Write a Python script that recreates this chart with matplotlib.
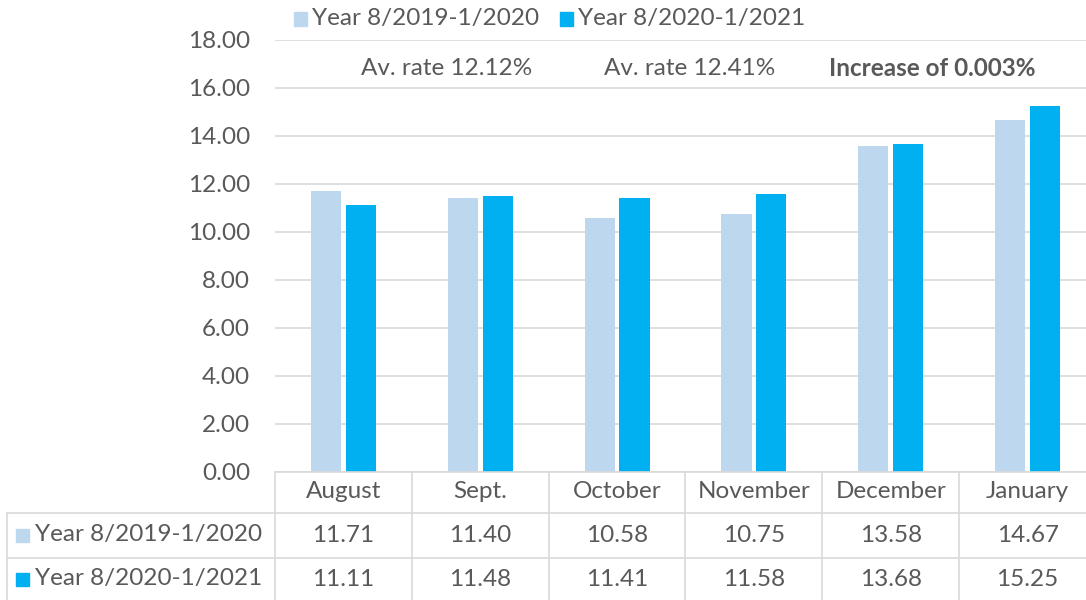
import matplotlib
matplotlib.use("Agg")
import matplotlib.pyplot as plt
from matplotlib.patches import Rectangle
from matplotlib.transforms import blended_transform_factory

categories = ["August", "Sept.", "October", "November", "December", "January"]
series_names = ["Year 8/2019-1/2020", "Year 8/2020-1/2021"]
values_2019 = [11.71, 11.40, 10.58, 10.75, 13.58, 14.67]
values_2020 = [11.11, 11.48, 11.41, 11.58, 13.68, 15.25]
yticks = [0, 2, 4, 6, 8, 10, 12, 14, 16, 18]
notes = ["Av. rate 12.12%", "Av. rate 12.41%", "Increase of 0.003%"]

c_light = "#BDD7EE"
c_dark = "#00B0F0"
txt = "#595959"
grid = "#D9D9D9"
FONT = ["Lato", "DejaVu Sans"]
plt.rcParams["font.family"] = FONT
FS = 17.5

W, H = 1086, 600
fig = plt.figure(figsize=(W / 100, H / 100), dpi=100)

def fx(px):
    return px / W

def fy(py):
    return 1 - py / H

left_px, right_px = 275, 1096
top_px, bot_px = 40, 472
ax = fig.add_axes([fx(left_px), fy(bot_px), fx(right_px) - fx(left_px), fy(top_px) - fy(bot_px)])
n = len(categories)
x = list(range(n))
bw = 0.22
gap = 0.035
ax.bar([i - (bw + gap) / 2 for i in x], values_2019, width=bw, color=c_light, zorder=2)
ax.bar([i + (bw + gap) / 2 for i in x], values_2020, width=bw, color=c_dark, zorder=2)
ax.set_xlim(-0.5, n - 0.5)
ax.set_ylim(0, 18)
ax.set_yticks(yticks)
ax.set_yticklabels([f"{v:.2f}" for v in yticks], fontsize=FS, color=txt)
ax.tick_params(axis="y", length=0, pad=18)
ax.set_xticks([])
for s in ax.spines.values():
    s.set_visible(False)
ax.grid(axis="y", color=grid, linewidth=1.2, zorder=0)
ax.set_axisbelow(True)

# annotations
note_x = [0.755, 2.53, 4.3]
for t, xx, bold in zip(notes, note_x, [False, False, True]):
    ax.text(xx, 16.83, t, ha="center", va="center", fontsize=FS, color=txt,
            fontweight="bold" if bold else "normal")

# legend at top
def key(px_x, py_y, color, size=13):
    fig.patches.append(Rectangle((fx(px_x), fy(py_y + size / 2)), size / W, size / H,
                                 transform=fig.transFigure, color=color))

key(294, 19, c_light)
fig.text(fx(312), fy(19), series_names[0], fontsize=FS, color=txt, va="center", ha="left")
key(560, 19, c_dark)
fig.text(fx(578), fy(19), series_names[1], fontsize=FS, color=txt, va="center", ha="left")

# data table
tr = blended_transform_factory(ax.transData, fig.transFigure)
row_lines = [472, 513, 558, 603]
fig.add_artist(plt.Line2D([fx(left_px), fx(right_px)], [fy(472), fy(472)], color=grid, lw=1.2, transform=fig.transFigure))
for py in row_lines[1:]:
    fig.add_artist(plt.Line2D([fx(7), fx(right_px)], [fy(py), fy(py)], color=grid, lw=1.2, transform=fig.transFigure))
for b in range(n + 1):
    fig.add_artist(plt.Line2D([b - 0.5, b - 0.5], [fy(472), fy(603)], color=grid, lw=1.2, transform=tr))
fig.add_artist(plt.Line2D([fx(7), fx(7)], [fy(513), fy(603)], color=grid, lw=1.2, transform=fig.transFigure))

for i, c in enumerate(categories):
    fig.text(i, fy(492), c, transform=tr, ha="center", va="center", fontsize=FS, color=txt)
    fig.text(i, fy(535), f"{values_2019[i]:.2f}", transform=tr, ha="center", va="center", fontsize=FS, color=txt)
    fig.text(i, fy(579), f"{values_2020[i]:.2f}", transform=tr, ha="center", va="center", fontsize=FS, color=txt)

key(16, 535, c_light)
fig.text(fx(35), fy(535), series_names[0], fontsize=FS, color=txt, va="center", ha="left")
key(16, 579, c_dark)
fig.text(fx(35), fy(579), series_names[1], fontsize=FS, color=txt, va="center", ha="left")

fig.savefig("out.png", dpi=100)
